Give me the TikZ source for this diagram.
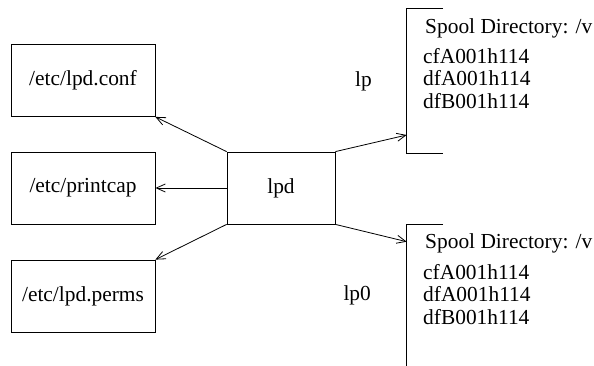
\documentclass[tikz,border=0pt]{standalone}
\usepackage{fontspec}
\setmainfont{Liberation Serif}
\usetikzlibrary{arrows.meta}
\begin{document}
\begin{tikzpicture}[x=1pt,y=-1pt,
  every node/.style={font=\fontsize{21.4}{25}\selectfont},
  box/.style={draw, line width=0.8pt, minimum width=144pt, minimum height=72pt, inner sep=0pt},
  frame/.style={draw=none, inner sep=0pt, minimum width=36pt, anchor=north west},
  txt/.style={anchor=base west, inner sep=0pt},
  ln/.style={line width=0.8pt},
  conn/.style={line width=0.8pt, -{Straight Barb[length=9pt,width=8pt]}},
]
\useasboundingbox (0,0) rectangle (594,366);
% left boxes
\node[box] (conf) at (83,80.5) {/etc/lpd.conf};
\node[box] (pcap) at (83,188) {/etc/printcap};
\node[box] (perms) at (83,296) {/etc/lpd.perms};
\node[box, minimum width=108pt] (lpd) at (281,188) {lpd};
% spool frames
\node[frame, minimum height=144pt] (sp1) at (406.7,8.7) {};
\node[frame, minimum height=160pt] (sp2) at (406.7,224) {};
\draw[ln] (sp1.north east) -- (sp1.north west) -- (sp1.south west) -- (sp1.south east);
\draw[ln] (sp2.north east) -- (sp2.north west) -- (sp2.south west);
% spool texts
\node[txt] (s1h) at (425,33.3) {Spool Directory: /v};
\node[txt] (s1a) at (423,63.3) {cfA001h114};
\node[txt] (s1b) at (423,85.8) {dfA001h114};
\node[txt] (s1c) at (423,108.3) {dfB001h114};
\node[txt] (s2h) at (425,248.5) {Spool Directory: /v};
\node[txt] (s2a) at (423,279) {cfA001h114};
\node[txt] (s2b) at (423,301.5) {dfA001h114};
\node[txt] (s2c) at (423,324) {dfB001h114};
% printer labels
\node[txt] (lp) at (355,86.7) {lp};
\node[txt] (lp0) at (343.3,300.7) {lp0};
% connectors
\coordinate (e1) at (406.7,135);
\coordinate (e2) at (406.7,241.7);
\draw[conn] (lpd.north west) -- (conf.south east);
\draw[conn] (lpd.west) -- (pcap.east);
\draw[conn] (lpd.south west) -- (perms.north east);
\draw[conn] (lpd.north east) -- (e1);
\draw[conn] (lpd.south east) -- (e2);
\end{tikzpicture}
\end{document}
